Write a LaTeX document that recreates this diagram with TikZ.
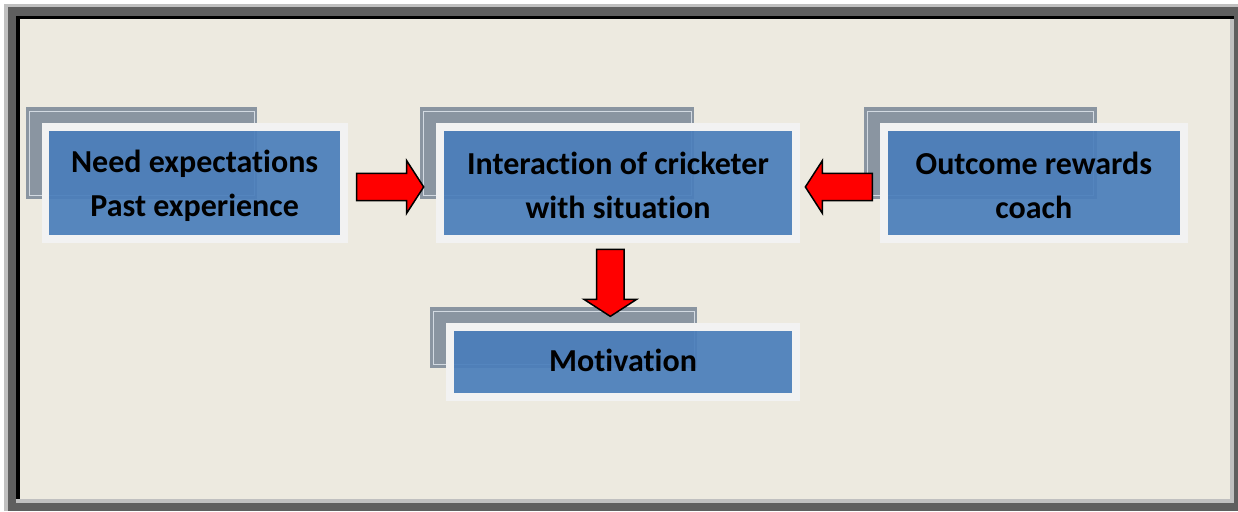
\documentclass[tikz,border=0pt]{standalone}
\usepackage{fontspec}
\setmainfont{Carlito}[Ligatures={NoCommon}]
\usetikzlibrary{calc}

\definecolor{pagebg}{HTML}{EDEAE0}
\definecolor{framedark}{HTML}{5F5F5F}
\definecolor{framelight}{HTML}{C0C0C0}
\definecolor{backgray}{HTML}{8A95A1}
\definecolor{backline}{HTML}{D3DAE2}
\definecolor{boxblue}{HTML}{4A7EBB}
\definecolor{boxframe}{HTML}{F2F2F2}
\definecolor{arrowred}{HTML}{FF0000}

% block arrow: tail centre #1, direction angle #2
\newcommand{\blockarrow}[2]{%
  \draw[blockarrowstyle, shift={(#1)}, rotate=#2]
    (0,-13.7) -- (50,-13.7) -- (50,-26.3) -- (67,0) -- (50,26.3)
    -- (50,13.7) -- (0,13.7) -- cycle;}

\begin{document}
\begin{tikzpicture}[x=1pt, y=-1pt,
  backbox/.style={fill=backgray, draw=none, inner sep=0pt, outer sep=0pt, anchor=north west},
  backinner/.style={draw=backline, line width=0.9pt},
  bluebox/.style={fill=boxblue, fill opacity=0.92,
    draw=boxframe, line width=7.7pt, inner sep=0pt, outer sep=0pt, anchor=north west},
  boxtext/.style={inner sep=0pt, align=center, text=black,
    font=\fontsize{32}{44}\selectfont\bfseries},
  blockarrowstyle/.style={fill=arrowred, draw=black, line width=1.5pt, line join=miter}]

\useasboundingbox (0,0) rectangle (1238,511);

% bevelled outer frame
\fill[white] (0,0) rectangle (1238,511);
\fill[framelight] (4,4) rectangle (1238,511);
\fill[framedark] (8,7.3) rectangle (1238,511);
\fill[framelight] (16,16) rectangle (1234,503);
\fill[black] (16,16) rectangle (1234,19.3);
\fill[black] (16,16) rectangle (20,499);
\fill[pagebg] (20,19.3) rectangle (1230,499);

% shadow cards behind the boxes
\node[backbox, minimum width=231.6pt, minimum height=92pt] (needback) at (25.7,107.3) {};
\node[backbox, minimum width=274.3pt, minimum height=92pt] (interback) at (420,107.3) {};
\node[backbox, minimum width=232.7pt, minimum height=92pt] (outcback) at (864,107.3) {};
\node[backbox, minimum width=267.3pt, minimum height=60.4pt] (motivback) at (430,307.3) {};
\foreach \b in {needback, interback, outcback, motivback}
  \draw[backinner] ($(\b.north west)+(3.6,3.7)$) rectangle ($(\b.south east)+(-3.3,-3.6)$);

% main boxes
\node[bluebox, minimum width=298.4pt, minimum height=112pt] (need) at (45.45,127.15) {};
\node[bluebox, minimum width=355.7pt, minimum height=112pt] (inter) at (440.15,127.15) {};
\node[bluebox, minimum width=300pt, minimum height=112pt] (outc) at (883.85,127.15) {};
\node[bluebox, minimum width=345.7pt, minimum height=70pt] (motiv) at (450.15,327.15) {};

% box texts
\node[boxtext] (needtext) at ($(need.center)+(0,2.5)$) {Need expectations\\Past experience};
\node[boxtext] (intertext) at ($(inter.center)+(0,2.5)$) {Interaction of cricketer\\with situation};
\node[boxtext] (outctext) at ($(outc.center)+(0,2.5)$) {Outcome rewards\\coach};
\node[boxtext] (motivtext) at ($(motiv.center)+(0,-2)$) {Motivation};

% block arrows between the boxes
\coordinate (a1) at ($(need.east)+(12.8,3.8)$);
\coordinate (a2) at ($(outc.west)+(-11.5,3.8)$);
\coordinate (a3) at ($(inter.south)+(-7.7,10.2)$);
\blockarrow{a1}{0}
\blockarrow{a2}{180}
\blockarrow{a3}{-90}

\end{tikzpicture}
\end{document}
